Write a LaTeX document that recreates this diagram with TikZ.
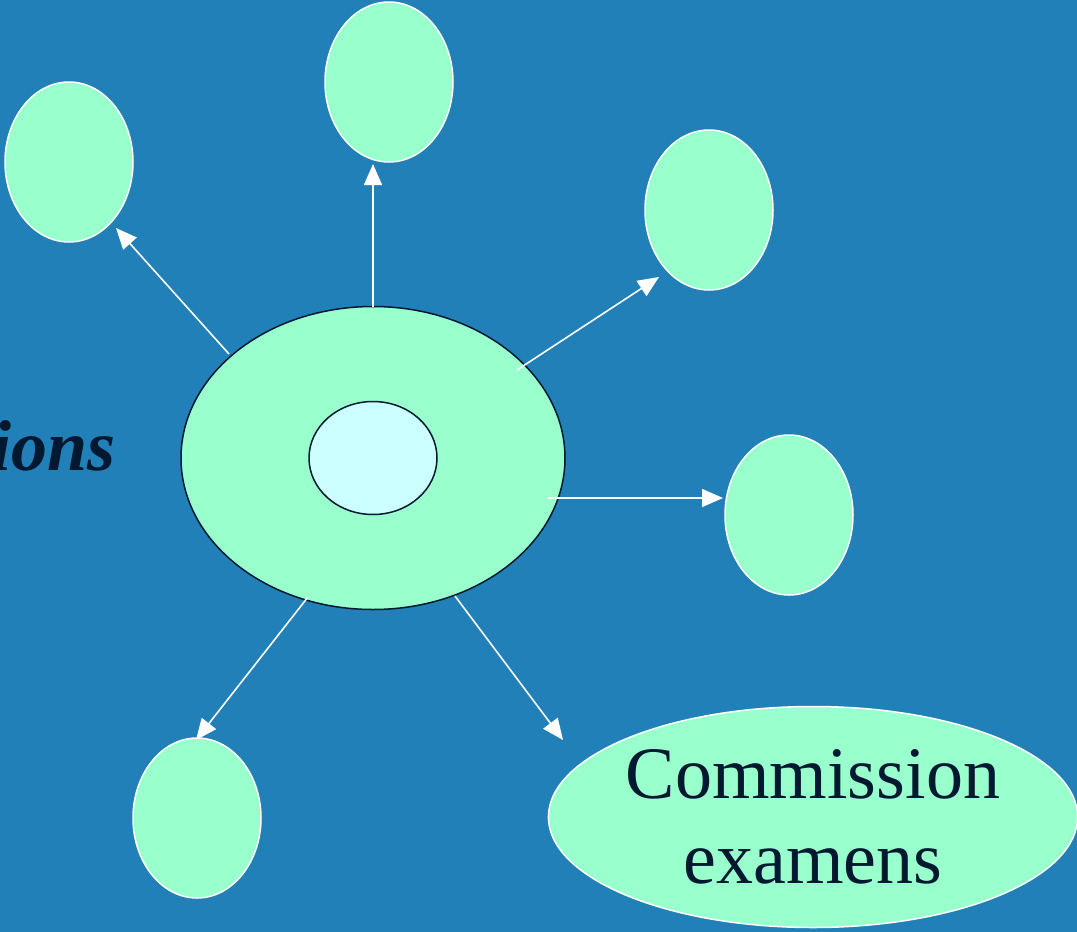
\documentclass[tikz,border=0pt]{standalone}
\usepackage{fontspec}
\setmainfont{Liberation Serif}
\usetikzlibrary{arrows.meta}
\definecolor{bgblue}{HTML}{2180B7}
\definecolor{mint}{HTML}{99FFCC}
\definecolor{paleblue}{HTML}{CCFFFF}
\definecolor{navy}{HTML}{001830}
\tikzset{
  small/.style={ellipse, fill=mint, draw=white, line width=1.5pt, minimum width=128pt, minimum height=160pt, inner sep=0pt},
  conn/.style={draw=white, line width=1.6pt, -{Triangle[length=21pt,width=18pt]}},
}
\usetikzlibrary{shapes.geometric}
\begin{document}
\begin{tikzpicture}[x=1pt,y=-1pt]
\fill[bgblue] (0,0) rectangle (1077,932);
\useasboundingbox (0,0) rectangle (1077,932);
\node[small] (tl) at (69,162) {};
\node[small] (top) at (389,82) {};
\node[small] (ru) at (709,210) {};
\node[small] (r) at (789,515) {};
\node[small] (bl) at (197,818) {};
\node[ellipse, fill=mint, draw=white, line width=1.5pt, minimum width=528pt, minimum height=221pt, inner sep=0pt, align=center, text=navy, font=\fontsize{74}{85}\selectfont] (com) at (813,817) {Commission\\examens};
\node[ellipse, fill=mint, draw=navy, line width=1.5pt, minimum width=384pt, minimum height=303pt, inner sep=0pt] (c) at (373,458) {};
\node[ellipse, fill=paleblue, draw=navy, line width=1.5pt, minimum width=128pt, minimum height=113pt, inner sep=0pt] (in) at (373,458) {};
\node[anchor=base east, text=navy, font=\fontsize{72}{80}\selectfont\bfseries\itshape, inner sep=0pt] (lbl) at (116,470) {ions};
\coordinate (s1) at (229,354); \coordinate (e1) at (116,228);
\coordinate (s2) at (373,307); \coordinate (e2) at (373,164);
\coordinate (s3) at (517,370); \coordinate (e3) at (659,277);
\coordinate (s4) at (548,498); \coordinate (e4) at (723,498);
\coordinate (s5) at (308,597); \coordinate (e5) at (196,740);
\coordinate (s6) at (455,596); \coordinate (e6) at (563,740);
\draw[conn] (s1) -- (e1);
\draw[conn] (s2) -- (e2);
\draw[conn] (s3) -- (e3);
\draw[conn] (s4) -- (e4);
\draw[conn] (s5) -- (e5);
\draw[conn] (s6) -- (e6);
\end{tikzpicture}
\end{document}
